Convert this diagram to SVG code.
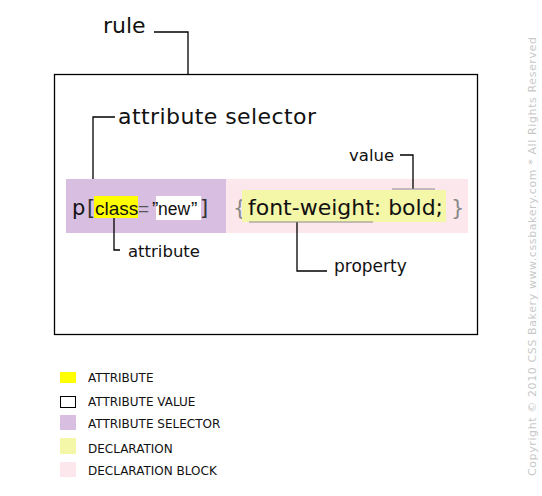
<svg xmlns="http://www.w3.org/2000/svg" width="542" height="496" viewBox="0 0 542 496">
<style>
.lbl{font-family:"DejaVu Sans",Verdana,sans-serif;fill:#111}
.big{font-size:22px}
.mid{font-size:16.5px}
.code{font-family:"DejaVu Sans",Verdana,sans-serif;font-size:21px}
.code2{font-family:"Liberation Sans",Arial,sans-serif;font-size:19px}
.leg{font-family:"DejaVu Sans",Verdana,sans-serif;font-size:12px;fill:#111}
.conn{fill:none;stroke:#000;stroke-width:1.3}
.under{fill:none;stroke:#8a8a8a;stroke-width:1.2}
</style>
<rect width="542" height="496" fill="#fff"/>
<g id="rule">
<rect x="54.5" y="74.5" width="423" height="260" fill="#fff" stroke="#000" stroke-width="1.3"/>
<text class="lbl big" x="103" y="33">rule</text>
</g>
<g id="attribute-selector">
<rect x="66" y="179" width="160" height="54" fill="#d8bfe2"/>
<text class="lbl big" x="118" y="124" textLength="198">attribute selector</text>
</g>
<g id="declaration-block">
<rect x="226" y="179" width="242" height="54" fill="#fce8ec"/>
<text class="code" x="233" y="215" fill="#888">{</text>
<text class="code" x="451" y="215" fill="#888">}</text>
</g>
<g id="attribute">
<rect x="94" y="196" width="44" height="22" fill="#ffff00"/>
<text class="lbl mid" x="128" y="257">attribute</text>
</g>
<g id="attribute-value">
<rect x="156" y="196" width="45" height="24" fill="#fff"/>
</g>
<g id="code">
<text class="code" x="72" y="215" fill="#111">p</text>
<text class="code" x="87" y="215" fill="#333">[</text>
<text class="code2" x="95" y="215" fill="#111">class</text>
<text class="code2" x="138" y="215" fill="#555">=</text>
<text class="code2" x="152" y="215" fill="#111">”</text>
<text class="code2" x="158" y="215" fill="#111" style="font-size:17.5px">new</text>
<text class="code2" x="191" y="215" fill="#111">”</text>
<text class="code" x="200" y="215" fill="#333">]</text>
</g>
<g id="declaration">
<rect x="242" y="190" width="204" height="32" fill="#f4f6a8"/>
<text class="code" x="248" y="215" fill="#111" textLength="195" style="font-size:22px">font-weight: bold;</text>
</g>
<g id="value">
<text class="lbl mid" x="349" y="161">value</text>
</g>
<g id="property">
<text class="lbl mid" x="334" y="272" style="font-size:17px">property</text>
</g>
<g id="connectors">
<path class="conn" d="M154,32 H188 V74"/>
<path class="conn" d="M115,117 H93 V179"/>
<path class="conn" d="M400,155 H413 V189"/>
<path class="conn" d="M297,222 V271 H327"/>
<path class="conn" d="M114,218 V250 H120"/>
<path class="under" d="M392,189 H435"/>
<path class="under" d="M249,222 H373"/>
</g>
<g id="legend">
<rect x="60" y="372" width="16" height="11" fill="#ffff00"/>
<rect x="60.5" y="396.5" width="15" height="11" fill="#fff" stroke="#000" stroke-width="1"/>
<rect x="60" y="415" width="16" height="15" fill="#d8bfe2"/>
<rect x="60" y="438" width="16" height="16" fill="#f4f6a8"/>
<rect x="60" y="462" width="16" height="15" fill="#fce8ec"/>
<text class="leg" x="88" y="382">ATTRIBUTE</text>
<text class="leg" x="88" y="406">ATTRIBUTE VALUE</text>
<text class="leg" x="88" y="428">ATTRIBUTE SELECTOR</text>
<text class="leg" x="88" y="453">DECLARATION</text>
<text class="leg" x="88" y="475">DECLARATION BLOCK</text>
</g>
<g id="copyright">
<text transform="translate(536,476) rotate(-90)" x="0" y="0" font-family="DejaVu Sans,Verdana,sans-serif" font-size="11" fill="#c8c8c8" textLength="439">Copyright © 2010 CSS Bakery www.cssbakery.com * All Rights Reserved</text>
</g>
</svg>
